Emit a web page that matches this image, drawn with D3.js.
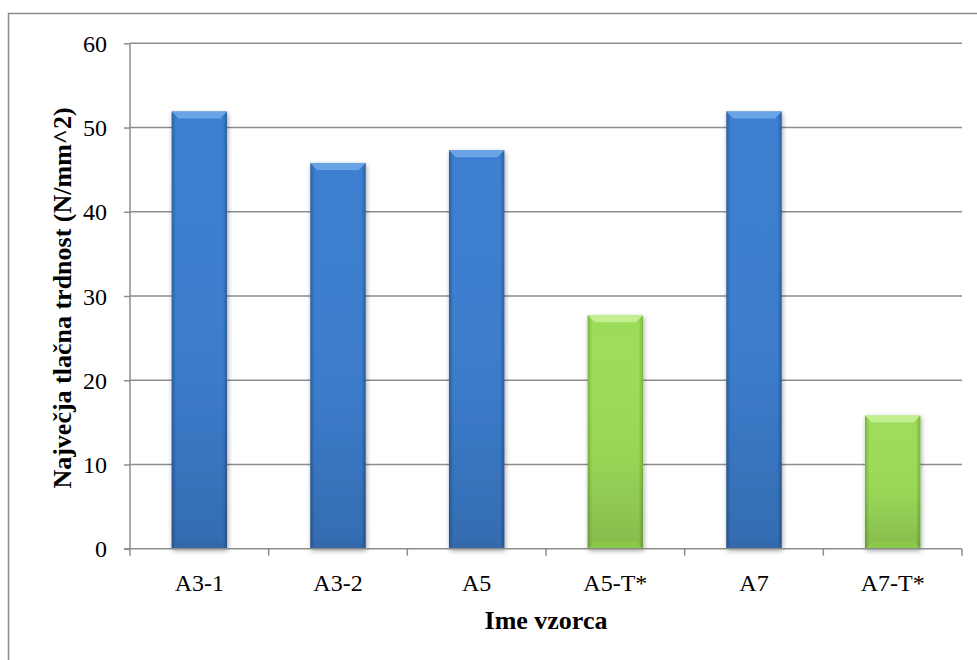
<!DOCTYPE html>
<html><head><meta charset="utf-8">
<script src="https://cdn.jsdelivr.net/npm/d3@7"></script>
<style>body{margin:0;background:#fff}svg{display:block}</style>
</head><body><div id="c"></div>
<script>
const categories = ["A3-1","A3-2","A5","A5-T*","A7","A7-T*"];
const values = [51.9, 45.8, 47.3, 27.7, 51.9, 15.8];
const groups = ["blue","blue","blue","green","blue","green"];
const yTicks = [0,10,20,30,40,50,60];
const xTitle = "Ime vzorca";
const yTitle = "Največja tlačna trdnost (N/mm^2)";

const W=977,H=660;
const FONT="Liberation Serif, Times New Roman, serif";
const svg=d3.select("#c").append("svg").attr("width",W).attr("height",H);
const defs=svg.append("defs");
const pal={blue:{main:"#3d7fd0",light:"#6aa3e6",dark:"#2c5f9f",bot:"#3567a8"},
           green:{main:"#9ddc5a",light:"#c3ef8e",dark:"#76b43a",bot:"#8ccc4c"}};
Object.entries(pal).forEach(([k,p])=>{
  const g=defs.append("linearGradient").attr("id","h"+k).attr("x1",0).attr("x2",1).attr("y1",0).attr("y2",0);
  g.append("stop").attr("offset","0").attr("stop-color",p.dark);
  g.append("stop").attr("offset","0.08").attr("stop-color",p.main);
  g.append("stop").attr("offset","0.92").attr("stop-color",p.main);
  g.append("stop").attr("offset","1").attr("stop-color",p.dark);
  const v=defs.append("linearGradient").attr("id","v"+k).attr("x1",0).attr("x2",0).attr("y1",0).attr("y2",1);
  v.append("stop").attr("offset","0").attr("stop-color","#fff").attr("stop-opacity",0);
  v.append("stop").attr("offset","0.6").attr("stop-color","#000").attr("stop-opacity",0.03);
  v.append("stop").attr("offset","1").attr("stop-color","#000").attr("stop-opacity",0.15);
});
const f=defs.append("filter").attr("id","sh").attr("x","-20%").attr("y","-5%").attr("width","140%").attr("height","115%");
f.append("feGaussianBlur").attr("in","SourceAlpha").attr("stdDeviation",2.5);
f.append("feOffset").attr("dx",1).attr("dy",2).attr("result","b");
f.append("feComponentTransfer").append("feFuncA").attr("type","linear").attr("slope",0.35);
const fm=f.append("feMerge");fm.append("feMergeNode");fm.append("feMergeNode").attr("in","SourceGraphic");

svg.append("rect").attr("x",8.5).attr("y",13.5).attr("width",1100).attr("height",800)
  .attr("fill","none").attr("stroke","#8c8c8c").attr("stroke-width",1.5);

const L=130,R=962,T=43.3,B=548.7;
const x=d3.scaleBand().domain(categories).range([L,R]).paddingInner(0.6).paddingOuter(0.3);
const xb=d3.scaleBand().domain(categories).range([L,R]);
const y=d3.scaleLinear().domain([0,60]).range([B,T]);

// gridlines
svg.append("g").selectAll("line").data(yTicks.filter(d=>d>0)).join("line")
  .attr("x1",L).attr("x2",R).attr("y1",d=>y(d)).attr("y2",d=>y(d))
  .attr("stroke","#8c8c8c").attr("stroke-width",1.5);

// bars
const bars=svg.append("g").selectAll("g").data(categories).join("g").attr("filter","url(#sh)");
bars.each(function(c,i){
  const g=d3.select(this),k=groups[i],p=pal[k];
  const x0=x(c),w=x.bandwidth(),y0=y(values[i]),h=B-y0,bv=7;
  g.append("rect").attr("x",x0).attr("y",y0).attr("width",w).attr("height",h).attr("fill",`url(#h${k})`);
  g.append("rect").attr("x",x0).attr("y",y0).attr("width",w).attr("height",h).attr("fill",`url(#v${k})`);
  g.append("path").attr("d",`M${x0},${y0}L${x0+w},${y0}L${x0+w-bv},${y0+bv}L${x0+bv},${y0+bv}Z`).attr("fill",p.light);
  g.append("path").attr("d",`M${x0},${B}L${x0+w},${B}L${x0+w-bv},${B-bv}L${x0+bv},${B-bv}Z`).attr("fill",p.bot).attr("opacity",0.8);
});

// axes
const ya=svg.append("g").attr("transform",`translate(${L},0)`)
  .call(d3.axisLeft(y).tickValues(yTicks).tickSize(6).tickPadding(17));
ya.attr("font-size",null).attr("font-family",null);
ya.select(".domain").attr("stroke","#8c8c8c").attr("stroke-width",1.5).attr("d",`M0,${T}V${B}`);
ya.selectAll(".tick line").attr("stroke","#8c8c8c").attr("stroke-width",1.5);
ya.selectAll("text").attr("font-family",FONT).style("font-size","24px").attr("fill","#000").attr("dy","0.34em");

const xa=svg.append("g").attr("transform",`translate(0,${B})`);
xa.append("line").attr("x1",L-6).attr("x2",R).attr("stroke","#8c8c8c").attr("stroke-width",1.5);
xa.selectAll("line.t").data(categories.concat(["end"])).join("line").attr("class","t")
  .attr("x1",(d,i)=>L+i*xb.bandwidth()).attr("x2",(d,i)=>L+i*xb.bandwidth())
  .attr("y1",0).attr("y2",7).attr("stroke","#8c8c8c").attr("stroke-width",1.5);
xa.selectAll("text").data(categories).join("text")
  .attr("x",d=>xb(d)+xb.bandwidth()/2).attr("y",42).attr("text-anchor","middle")
  .attr("font-family",FONT).style("font-size","24px").text(d=>d);

svg.append("text").attr("x",546).attr("y",629).attr("text-anchor","middle")
  .attr("font-family",FONT).attr("font-weight","bold").style("font-size","26px").text(xTitle);
svg.append("text").attr("transform",`translate(71,298) rotate(-90)`).attr("text-anchor","middle")
  .attr("font-family",FONT).attr("font-weight","bold").style("font-size","26px").text(yTitle);
</script></body></html>
